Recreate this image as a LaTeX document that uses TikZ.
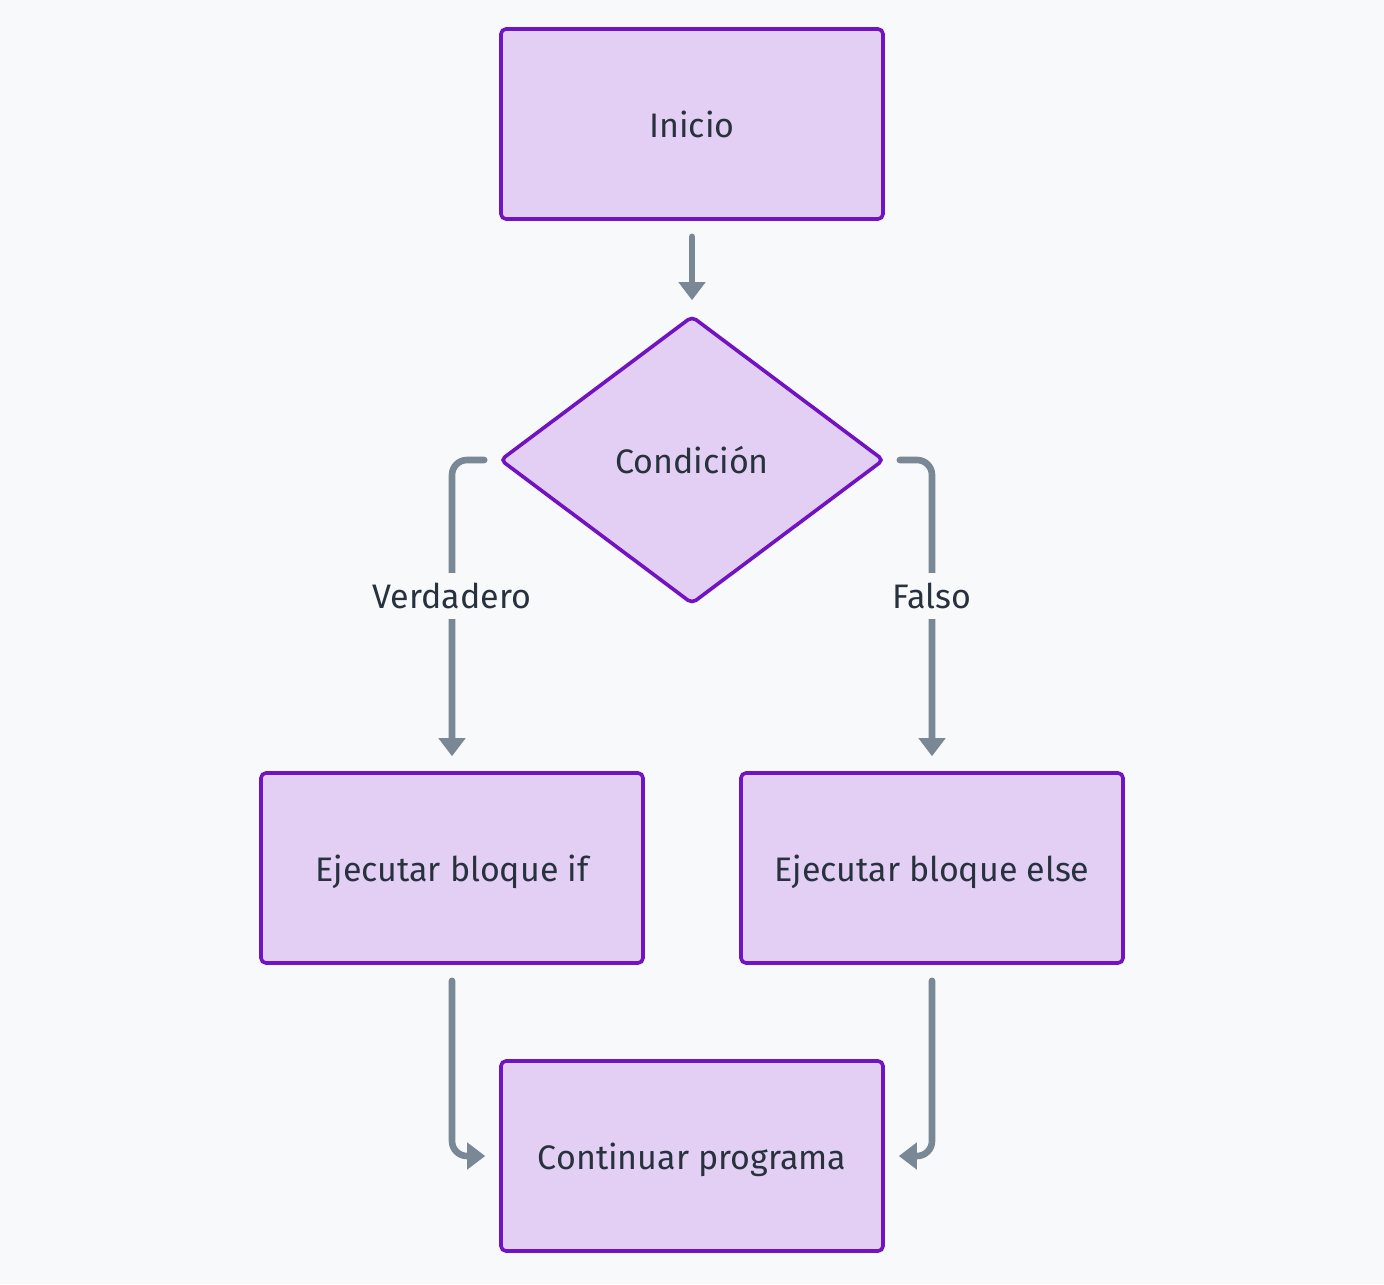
\documentclass[tikz,border=0pt]{standalone}
\usepackage{fontspec}
\setmainfont{Fira Sans}
\usetikzlibrary{shapes.geometric,arrows.meta}
\definecolor{bgcol}{HTML}{F8F9FA}
\definecolor{boxfill}{HTML}{E3CFF3}
\definecolor{boxline}{HTML}{7112C3}
\definecolor{linkcol}{HTML}{7A8794}
\definecolor{txtcol}{HTML}{28323E}
\tikzset{>={Triangle[width=13pt,length=9pt]}}
\tikzset{
  block/.style={rectangle,rounded corners=2.5pt,draw=boxline,fill=boxfill,line width=1.8pt,
    minimum width=191pt,minimum height=95pt,text=txtcol,text height=13.7pt,text depth=0pt,
    font=\fontsize{17}{20}\selectfont},
  decision/.style={diamond,rounded corners=2.5pt,draw=boxline,fill=boxfill,line width=1.8pt,
    inner sep=0pt,minimum width=192pt,minimum height=144pt,text=txtcol,
    text height=13.7pt,text depth=0pt,font=\fontsize{17}{20}\selectfont},
  link/.style={->,linkcol,line width=3.3pt,line cap=round,rounded corners=7.5pt},
  tag/.style={fill=bgcol,text=txtcol,inner xsep=2pt,inner ysep=5pt,font=\fontsize{17}{20}\selectfont}
}

\begin{document}
\begin{tikzpicture}[x=0.5pt,y=-0.5pt]
  \fill[bgcol] (0,0) rectangle (1384,1284);
  \useasboundingbox (0,0) rectangle (1384,1284);

  % NODES
  \node[block] (inicio) at (692,124) {Inicio};
  \node[decision] (cond) at (692,460) {Condición};
  \node[block] (bloqif) at (452,868) {Ejecutar bloque if};
  \node[block] (bloqelse) at (932,868) {Ejecutar bloque else};
  \node[block] (cont) at (692,1156) {Continuar programa};

  % LINKS
  \draw[link,shorten <=8pt,shorten >=7pt] (inicio) -- (cond);
  \draw[link,shorten <=7pt,shorten >=7.5pt] (cond) -| (bloqif);
  \draw[link,shorten <=7pt,shorten >=7.5pt] (cond) -| (bloqelse);
  \draw[link,shorten <=8pt,shorten >=7pt] (bloqif) |- (cont);
  \draw[link,shorten <=8pt,shorten >=7pt] (bloqelse) |- (cont);

  % LABELS
  \node[tag] (verd) at (452,596) {Verdadero};
  \node[tag] (falso) at (932,596) {Falso};
\end{tikzpicture}
\end{document}
